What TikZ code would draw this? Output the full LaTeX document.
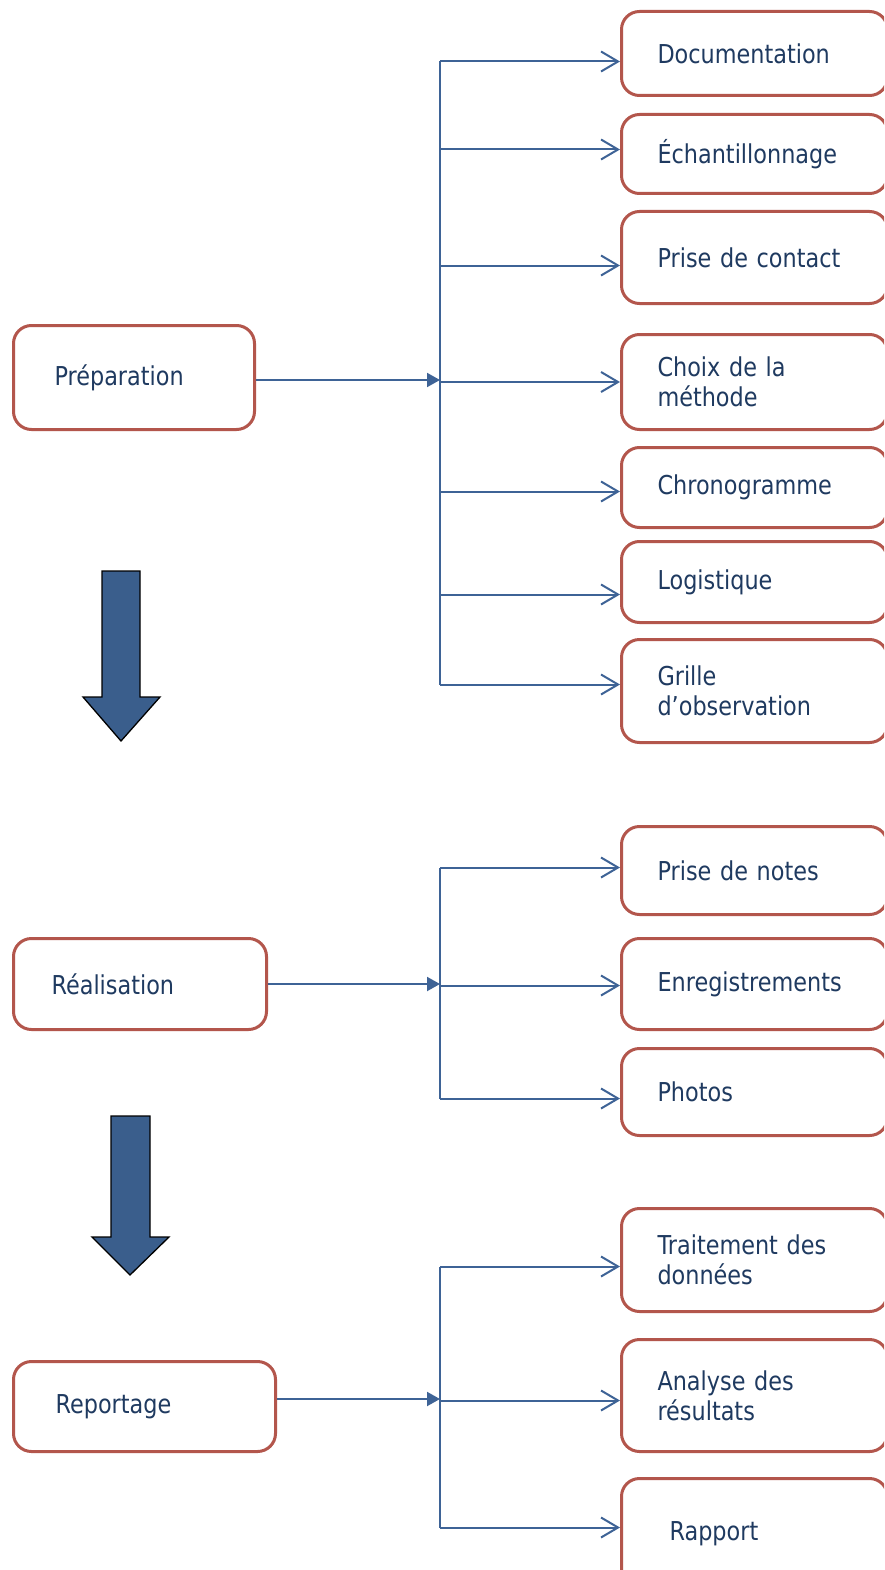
\documentclass[tikz,border=0pt]{standalone}
\usepackage{fontspec}
\setmainfont{DejaVu Sans}[FakeStretch=0.86]
\usepackage{tikz}
\usetikzlibrary{arrows.meta, positioning, calc}
\definecolor{boxred}{HTML}{B3564C}
\definecolor{linkblue}{HTML}{3E6396}
\definecolor{textnavy}{HTML}{1F3A60}
\definecolor{arrowfill}{HTML}{3A5E8C}

\begin{document}
\begin{tikzpicture}[
  x=1pt, y=-1pt,
  font=\fontsize{26}{30}\selectfont,
  stepbox/.style={
    rectangle, rounded corners=18pt, draw=boxred, fill=white, line width=3pt,
    text=textnavy, align=left, anchor=north west, inner ysep=0pt
  },
  taskbox/.style={stepbox, inner xsep=36pt, text width=194pt},
  link/.style={draw=linkblue, line width=2pt},
  branch/.style={link, -{Straight Barb[length=17pt,width=20pt]}},
  feed/.style={link, -{Triangle[length=13pt,width=14pt]}},
  bigarrow/.style={fill=arrowfill, draw=black, line width=1.3pt, line join=miter},
]
\fill[white] (0,0) rectangle (884,1570);
\useasboundingbox (0,0) rectangle (884,1570);
\clip (0,0) rectangle (884,1570);

% Phase 1: preparation and its tasks
\node[stepbox, inner xsep=41pt, text width=159pt, minimum height=104pt] (prep) at (12,324) {Préparation};
\node[taskbox, minimum height=84pt] (doc) at (620,10) {Documentation};
\node[taskbox, minimum height=79pt] (ech) at (620,113) {Échantillonnage};
\node[taskbox, minimum height=92pt] (contact) at (620,210) {Prise de contact};
\node[taskbox, minimum height=95pt] (choix) at (620,333) {Choix de la\\méthode};
\node[taskbox, minimum height=80pt] (chrono) at (620,446) {Chronogramme};
\node[taskbox, minimum height=81pt] (logi) at (620,540) {Logistique};
\node[taskbox, minimum height=103pt] (grille) at (620,638) {Grille\\d’observation};

% Phase 2: realisation
\node[stepbox, inner xsep=38pt, text width=177pt, minimum height=91pt] (real) at (12,937) {Réalisation};
\node[taskbox, minimum height=88pt] (notes) at (620,825) {Prise de notes};
\node[taskbox, minimum height=91pt] (enreg) at (620,937) {Enregistrements};
\node[taskbox, minimum height=87pt] (photos) at (620,1047) {Photos};

% Phase 3: reporting
\node[stepbox, inner xsep=42pt, text width=178pt, minimum height=90pt] (report) at (12,1360) {Reportage};
\node[taskbox, minimum height=103pt] (traite) at (620,1207) {Traitement des\\données};
\node[taskbox, minimum height=112pt] (analyse) at (620,1338) {Analyse des\\résultats};
\node[taskbox, minimum height=110pt] (rapport) at (620,1477) {\hspace*{12pt}Rapport};

% trunk points
\coordinate (prepTrunk) at (440,380);
\coordinate (realTrunk) at (440,984);
\coordinate (reportTrunk) at (440,1399);

% phase -> trunk
\draw[feed] (prep.east |- prepTrunk) -- (prepTrunk);
\draw[feed] (real.east |- realTrunk) -- (realTrunk);
\draw[feed] (report.east |- reportTrunk) -- (reportTrunk);

% trunk -> tasks
\foreach \b/\dy in {doc/-8, ech/4.5, contact/-8, choix/0, chrono/-4, logi/-12.5, grille/6.5} {
  \coordinate (\b-in) at ([yshift=\dy pt]\b.west);
  \draw[branch] (prepTrunk |- \b-in) -- (\b-in);
}
\foreach \b/\dy in {notes/3, enreg/-1.5, photos/-6.5} {
  \coordinate (\b-in) at ([yshift=\dy pt]\b.west);
  \draw[branch] (realTrunk |- \b-in) -- (\b-in);
}
\foreach \b/\dy in {traite/-6.5, analyse/-5, rapport/6} {
  \coordinate (\b-in) at ([yshift=\dy pt]\b.west);
  \draw[branch] (reportTrunk |- \b-in) -- (\b-in);
}

% vertical trunks
\draw[link] (prepTrunk |- doc-in) -- (prepTrunk |- grille-in);
\draw[link] (realTrunk |- notes-in) -- (realTrunk |- photos-in);
\draw[link] (reportTrunk |- traite-in) -- (reportTrunk |- rapport-in);

% block arrows between phases
\draw[bigarrow] (102,571) -- (140,571) -- (140,697) -- (160,697) -- (121,741) -- (83,697) -- (102,697) -- cycle;
\draw[bigarrow] (111,1116) -- (150,1116) -- (150,1237) -- (169,1237) -- (130,1275) -- (92,1237) -- (111,1237) -- cycle;
\end{tikzpicture}
\end{document}
